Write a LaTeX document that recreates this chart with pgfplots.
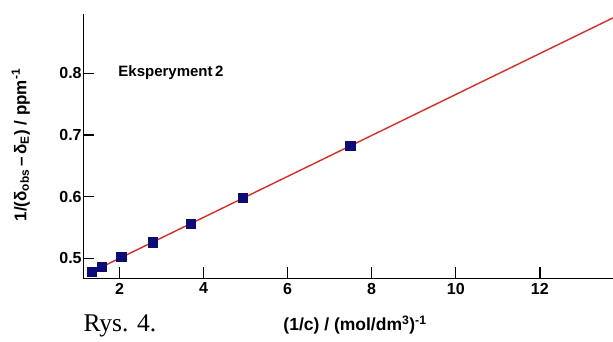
\documentclass[border=0pt]{standalone}
\usepackage{pgfplots}
\pgfplotsset{compat=1.18}
\usepackage{fontspec}
\setmainfont{Liberation Serif}
\setsansfont{Liberation Sans}
\definecolor{fitred}{RGB}{220,45,35}
\definecolor{ptblue}{RGB}{12,12,120}
\begin{document}
\begin{tikzpicture}
\useasboundingbox (0,0) rectangle (613pt,341pt);
\begin{axis}[
  at={(83.3pt,62.7pt)}, anchor=south west,
  scale only axis, width=529.7pt, height=264.3pt,
  xmin=1.14, xmax=13.74, ymin=0.4676, ymax=0.896,
  axis lines*=left,
  axis line style={line width=1.6pt},
  tick align=inside,
  major tick length=11pt,
  every tick/.style={line width=1.4pt, black},
  xtick={2,4,...,12}, ytick={0.5,0.6,0.7,0.8},
  yticklabel style={/pgf/number format/fixed, /pgf/number format/fixed zerofill, /pgf/number format/precision=1},
  /pgf/number format/assume math mode=true,
  tick label style={font=\fontsize{16}{18}\sffamily\bfseries},
  xticklabel style={yshift=-1pt},
  yticklabel style={inner xsep=1.5pt},
  xlabel={(1/c) / (mol/dm\textsuperscript{3})\textsuperscript{-1}},
  ylabel={1/(δ\textsubscript{obs}\,–\,δ\textsubscript{E}) / ppm\textsuperscript{-1}},
  xlabel style={font=\fontsize{17.5}{20}\sffamily\bfseries, at={(axis description cs:0.513,-0.178)}, anchor=center},
  ylabel style={font=\fontsize{17}{19}\sffamily\bfseries, at={(axis description cs:-0.118,0.504)}, anchor=center},
  clip=false,
]
\addplot[fitred, line width=1.4pt] coordinates {(1.30,0.4767) (13.74,0.8897)};
\addplot[only marks, mark=square*, mark size=4.6pt, mark options={fill=ptblue, draw=ptblue}] coordinates {
(1.34,0.478) (1.58,0.486) (2.04,0.502) (2.80,0.526) (3.70,0.556) (4.93,0.598) (7.49,0.682)};
\node[anchor=west, inner sep=0pt, font=\fontsize{15}{17}\sffamily\bfseries] at (axis description cs:0.066,0.78) {Eksperyment\,2};
\end{axis}
\node[anchor=base west, font=\fontsize{25.5}{28}\rmfamily, inner sep=0pt] at (83.3pt,9.3pt) {Rys. 4.};
\end{tikzpicture}
\end{document}
